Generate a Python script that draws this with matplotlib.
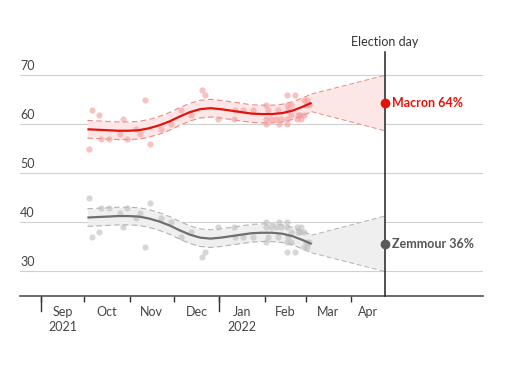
import matplotlib
matplotlib.use("Agg")
import matplotlib.pyplot as plt
import numpy as np
import pandas as pd

plt.rcParams['font.family'] = ['Lato', 'DejaVu Sans']

# ---------------- data ----------------
poll_dates = ["2021-10-04", "2021-10-06", "2021-10-11", "2021-10-12", "2021-10-18",
              "2021-10-25", "2021-10-27", "2021-10-30", "2021-11-05", "2021-11-08",
              "2021-11-11", "2021-11-15", "2021-11-22", "2021-11-29", "2021-12-06",
              "2021-12-13", "2021-12-20", "2021-12-22", "2021-12-31", "2022-01-11",
              "2022-01-12", "2022-01-17", "2022-01-24", "2022-02-02", "2022-02-02",
              "2022-02-02", "2022-02-03", "2022-02-05", "2022-02-09", "2022-02-10",
              "2022-02-11", "2022-02-12", "2022-02-16", "2022-02-16", "2022-02-16",
              "2022-02-16", "2022-02-17", "2022-02-19", "2022-02-19", "2022-02-22",
              "2022-02-23", "2022-02-24", "2022-02-25", "2022-02-26", "2022-02-28",
              "2022-02-28", "2022-03-01", "2022-03-02", "2022-03-03"]
macron_polls = [55, 63, 62, 57, 57, 58, 61, 57, 59, 58,
                65, 56, 59, 60, 63, 62, 67, 66, 61, 61,
                63, 63, 63, 64, 61, 60, 63, 61, 61, 63,
                60, 61, 66, 64, 61, 60, 63, 62, 64, 66,
                61, 62, 62, 61, 65, 62, 64, 65, 64]
zemmour_polls = [45, 37, 38, 43, 43, 42, 39, 43, 41, 42,
                 35, 44, 41, 40, 37, 38, 33, 34, 39, 39,
                 37, 37, 37, 36, 39, 40, 37, 39, 39, 37,
                 40, 39, 34, 36, 39, 40, 37, 38, 36, 34,
                 39, 38, 38, 39, 35, 38, 36, 35, 36]

trend_dates = ["2021-10-03", "2021-10-10", "2021-10-17", "2021-10-24", "2021-10-31",
               "2021-11-07", "2021-11-14", "2021-11-21", "2021-11-28", "2021-12-05",
               "2021-12-12", "2021-12-19", "2021-12-26", "2022-01-02", "2022-01-09",
               "2022-01-16", "2022-01-23", "2022-01-30", "2022-02-06", "2022-02-13",
               "2022-02-20", "2022-02-27", "2022-03-05"]
macron_trend = [59.0, 58.9, 58.8, 58.7, 58.7, 58.8, 59.2, 59.8, 60.6, 61.6,
                62.5, 63.1, 63.3, 63.1, 62.8, 62.5, 62.2, 62.1, 62.1, 62.3,
                62.8, 63.6, 64.4]
zemmour_trend = [41.0, 41.1, 41.2, 41.3, 41.3, 41.2, 40.8, 40.2, 39.4, 38.4,
                 37.5, 36.9, 36.7, 36.9, 37.2, 37.5, 37.8, 37.9, 37.9, 37.7,
                 37.2, 36.4, 35.6]
band_halfwidth = 1.8

election_day = "2022-04-24"
macron_final = 64
zemmour_final = 36
macron_cone = (70.0, 58.7)
zemmour_cone = (41.3, 30.0)

month_starts = ["2021-09-01", "2021-10-01", "2021-11-01", "2021-12-01", "2022-01-01",
                "2022-02-01", "2022-03-01", "2022-04-01"]
month_labels = ["Sep\n2021", "Oct", "Nov", "Dec", "Jan\n2022", "Feb", "Mar", "Apr"]
y_ticks = [30, 40, 50, 60, 70]

# ---------------- plotting ----------------
RED = "#e3120b"
RED_DOT = "#f39a9a"
RED_FILL = "#fde6e6"
RED_DASH = "#e98a8a"
GREY = "#6e6e6e"
GREY_DOT = "#bdbdbd"
GREY_FILL = "#efefef"
GREY_DASH = "#b3b3b3"

pd_dates = pd.to_datetime(poll_dates)
td = pd.to_datetime(trend_dates)
eday = pd.Timestamp(election_day)

fig = plt.figure(figsize=(5.30, 3.82), dpi=100)
ax = fig.add_axes([20/530, 1-296/382, 463/530, 255/382])
ax.set_xlim(pd.Timestamp("2021-08-18"), pd.Timestamp("2022-06-30"))
ax.set_ylim(25, 77)

for v in y_ticks:
    ax.axhline(v, color="#d0d0d0", lw=0.8, zorder=0)
    ax.text(0.0, v + 0.7, str(v), transform=ax.get_yaxis_transform(),
            ha="left", va="bottom", fontsize=9, color="#444444")

def series(trend, polls, cone, line_c, dot_c, fill_c, dash_c):
    trend = np.array(trend)
    hi = trend + band_halfwidth
    lo = trend - band_halfwidth
    ax.fill_between(td, lo, hi, color=fill_c, lw=0, zorder=1)
    xs = [td[-1], eday, eday, td[-1]]
    ys = [hi[-1], cone[0], cone[1], lo[-1]]
    ax.fill(xs, ys, color=fill_c, lw=0, zorder=1)
    ax.plot([td[-1], eday], [hi[-1], cone[0]], color=dash_c, lw=0.7, ls=(0, (5, 3)), zorder=2)
    ax.plot([td[-1], eday], [lo[-1], cone[1]], color=dash_c, lw=0.7, ls=(0, (5, 3)), zorder=2)
    ax.plot(td, hi, color=dash_c, lw=0.8, ls=(0, (5, 3)), zorder=2)
    ax.plot(td, lo, color=dash_c, lw=0.8, ls=(0, (5, 3)), zorder=2)
    ax.scatter(pd_dates, polls, s=20, color=dot_c, alpha=0.6, lw=0, zorder=3)
    ax.plot(td, trend, color=line_c, lw=1.6, zorder=4, solid_capstyle="butt")

series(macron_trend, macron_polls, macron_cone, RED, RED_DOT, RED_FILL, RED_DASH)
series(zemmour_trend, zemmour_polls, zemmour_cone, GREY, GREY_DOT, GREY_FILL, GREY_DASH)

# election day line
ax.plot([eday, eday], [25, 74.8], color="#222222", lw=1.1, zorder=5, clip_on=False)
ax.text(eday, 76.7, "Election day", ha="center", va="center", fontsize=9, color="#333333")

ax.plot([eday], [macron_final + 0.3], "o", ms=6, color=RED, zorder=6)
ax.plot([eday], [zemmour_final - 0.3], "o", ms=6, color="#5a5a5a", zorder=6)
ax.annotate(f"Macron {macron_final}%", (eday, macron_final + 0.3), xytext=(5, 0),
            textcoords="offset points", va="center", ha="left", fontsize=9,
            color=RED, fontweight="bold")
ax.annotate(f"Zemmour {zemmour_final}%", (eday, zemmour_final - 0.3), xytext=(5, 0),
            textcoords="offset points", va="center", ha="left", fontsize=9,
            color="#555555", fontweight="bold")

# x axis
for s in ["top", "right", "left"]:
    ax.spines[s].set_visible(False)
ax.spines["bottom"].set_color("#555555")
ax.spines["bottom"].set_linewidth(1.2)
ax.set_yticks([])
ms = pd.to_datetime(month_starts)
ax.set_xticks(ms)
ax.set_xticklabels([])
ax.tick_params(axis="x", length=4, width=1, color="#333333", direction="out")
for t in ["2021-09-01", "2022-01-01"]:
    ax.plot([pd.Timestamp(t)] * 2, [25, 21.9], color="#333333", lw=1, clip_on=False)

label_pos = list(ms[:-1] + (ms[1:] - ms[:-1]) / 2) + [ms[-1] + (eday - ms[-1]) / 2]
for pos, lab in zip(label_pos, month_labels):
    ax.text(pos, 23.0, lab, ha="center", va="top", fontsize=9, color="#444444",
            linespacing=1.3)

fig.savefig("out.png", dpi=100, facecolor="white")
